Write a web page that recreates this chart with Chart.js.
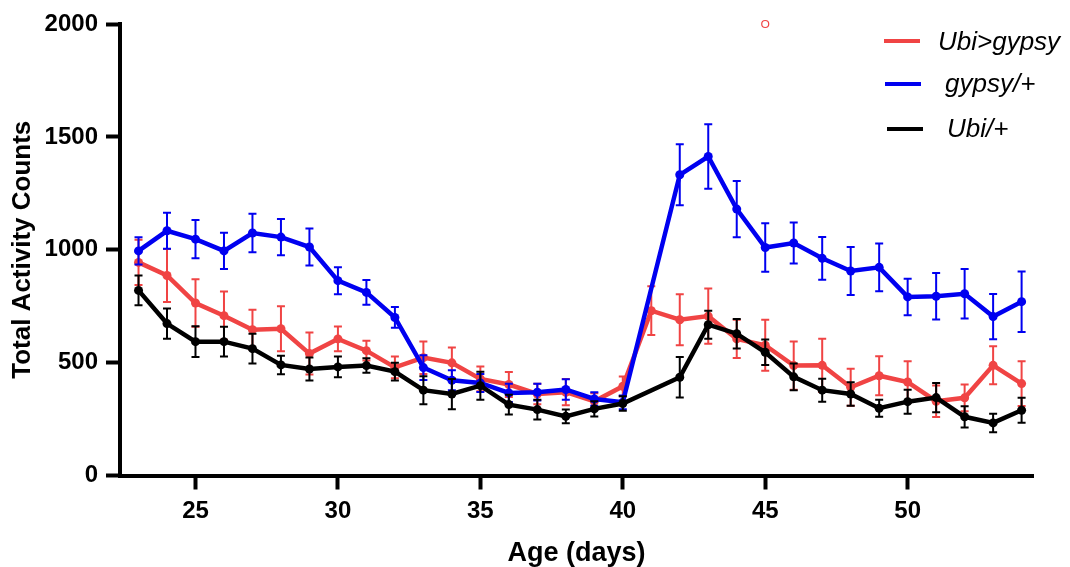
<!DOCTYPE html>
<html>
<head>
<meta charset="utf-8">
<title>Total Activity Counts</title>
<script src="https://cdn.jsdelivr.net/npm/chart.js@4.4.1/dist/chart.umd.min.js"></script>
<style>
    body { margin: 0; background: #fff; }
    .wrap { position: relative; width: 1070px; height: 567px; }
    .legend { position: absolute; left: 884px; top: 20px; font-family: "Liberation Sans", Arial, sans-serif; font-style: italic; font-size: 26px; color: #000; }
    .legend__item { position: absolute; white-space: nowrap; }
    .legend__line { position: absolute; width: 36px; height: 4px; }
</style>
</head>
<body>
<div class="wrap">
    <canvas id="myChart" width="1070" height="567"></canvas>
    <div class="legend">
        <div class="legend__line" style="left:0; top:19px; background:#f04444"></div>
        <div class="legend__item" style="left:54px; top:6px">Ubi&gt;gypsy</div>
        <div class="legend__line" style="left:1px; top:62px; background:#0000f0"></div>
        <div class="legend__item" style="left:61px; top:48px">gypsy/+</div>
        <div class="legend__line" style="left:3px; top:107px; background:#000"></div>
        <div class="legend__item" style="left:63px; top:93px">Ubi/+</div>
    </div>
</div>
<script>
const days = [23, 24, 25, 26, 27, 28, 29, 30, 31, 32, 33, 34, 35, 36, 37, 38,
    39, 40, 41, 42, 43, 44, 45, 46, 47, 48, 49, 50, 51, 52, 53, 54];

// Ubi>gypsy
const ubiGypsy = [944, 886, 764, 708, 646, 650, 540, 605, 553, 479, 522, 499, 428, 403, 361, 369,
    329, 395, 730, 690, 706, 605, 577, 487, 488, 391, 442, 414, 329, 344, 488, 407];
const ubiGypsyErr = [100, 117, 105, 107, 88, 100, 93, 55, 44, 48, 72, 68, 55, 55, 45, 58,
    35, 44, 108, 113, 122, 85, 113, 107, 118, 82, 86, 92, 70, 59, 84, 99];

// gypsy/+
const gypsy = [995, 1084, 1047, 995, 1074, 1056, 1012, 863, 811, 700, 478, 422, 410, 366, 369, 381,
    339, 324, null, 1332, 1413, 1180, 1010, 1030, 962, 906, 922, 791, 794, 805, 704, 770];
const gypsyErr = [60, 80, 85, 80, 85, 80, 82, 60, 55, 46, 55, 44, 40, 40, 37, 45,
    30, 30, null, 135, 143, 125, 107, 91, 95, 106, 106, 81, 103, 110, 100, 134];

// Ubi/+
const ubi = [820, 673, 593, 593, 562, 490, 472, 481, 487, 460, 378, 361, 398, 314, 292, 262,
    295, 319, null, 435, 668, 628, 546, 437, 378, 361, 298, 327, 345, 260, 233, 289];
const ubiErr = [66, 67, 68, 66, 66, 41, 51, 46, 32, 39, 62, 67, 62, 44, 44, 30,
    34, 32, null, 90, 62, 65, 56, 59, 51, 52, 38, 53, 65, 47, 41, 55];

// single outlier point of Ubi>gypsy
const outlierDay = [45];
const outlierValue = [2000];

const xTicks = [25, 30, 35, 40, 45, 50];
const yTicks = [0, 500, 1000, 1500, 2000];

function toPoints(values, errors) {
    let out = [];
    days.forEach(function(d, i) {
        if (values[i] !== null) {
            out.push({ x: d, y: values[i], err: errors ? errors[i] : 0 });
        }
    });
    return out;
}

// error bars, drawn right before each dataset so lines sit on top
const errorBars = {
    id: 'errorBars',
    beforeDatasetDraw: function(chart, args) {
        let ds = chart.data.datasets[args.index];
        if (!ds.errorColor) return;
        let ctx = chart.ctx;
        let xs = chart.scales.x, ys = chart.scales.y;
        ctx.save();
        ctx.strokeStyle = ds.errorColor;
        ctx.lineWidth = 2;
        ds.data.forEach(function(p) {
            if (!p.err) return;
            let px = xs.getPixelForValue(p.x);
            let top = ys.getPixelForValue(p.y + p.err);
            let bot = ys.getPixelForValue(p.y - p.err);
            ctx.beginPath();
            ctx.moveTo(px, top); ctx.lineTo(px, bot);
            ctx.moveTo(px - 4, top); ctx.lineTo(px + 4, top);
            ctx.moveTo(px - 4, bot); ctx.lineTo(px + 4, bot);
            ctx.stroke();
        });
        ctx.restore();
    }
};

function series(label, values, errors, color, order) {
    return {
        label: label,
        data: toPoints(values, errors),
        borderColor: color,
        backgroundColor: color,
        errorColor: color,
        borderWidth: 4.5,
        pointRadius: 4.5,
        pointHoverRadius: 4.5,
        pointBorderWidth: 0,
        tension: 0,
        order: order
    };
}

const font = '"Liberation Sans", Arial, sans-serif';

let ctx = document.getElementById('myChart').getContext('2d');
let chart = new Chart(ctx, {
    type: 'line',
    data: {
        datasets: [
            series('Ubi>gypsy', ubiGypsy, ubiGypsyErr, '#f04444', 2),
            series('gypsy/+', gypsy, gypsyErr, '#0000f0', 1),
            series('Ubi/+', ubi, ubiErr, '#000000', 0),
            {
                label: 'outlier',
                data: outlierDay.map(function(d, i) { return { x: d, y: outlierValue[i] }; }),
                showLine: false,
                pointRadius: 3.5,
                pointBorderWidth: 1.2,
                borderColor: '#f04444',
                backgroundColor: '#ffffff',
                clip: false,
                order: 3
            }
        ]
    },
    options: {
        responsive: false,
        animation: false,
        layout: { padding: { left: 0, top: 24, right: 37, bottom: 0 } },
        plugins: {
            legend: { display: false },
            tooltip: { enabled: false }
        },
        scales: {
            x: {
                type: 'linear',
                min: 22.35,
                max: 54.4,
                afterBuildTicks: function(scale) {
                    scale.ticks = xTicks.map(function(v) { return { value: v }; });
                },
                afterFit: function(scale) { scale.height = 91.5; },
                grid: { display: true, drawOnChartArea: false, tickLength: 14, tickWidth: 4, tickColor: '#000' },
                border: { display: true, width: 4, color: '#000' },
                ticks: { color: '#000', padding: 7, maxRotation: 0, font: { family: font, size: 24, weight: 'bold' } },
                title: { display: true, text: 'Age (days)', color: '#000', padding: 0, font: { family: font, size: 27, weight: 'bold', lineHeight: 1 } }
            },
            y: {
                min: 0,
                max: 2000,
                afterBuildTicks: function(scale) {
                    scale.ticks = yTicks.map(function(v) { return { value: v }; });
                },
                afterFit: function(scale) { scale.width = 120; },
                grid: { display: true, drawOnChartArea: false, tickLength: 14, tickWidth: 4, tickColor: '#000' },
                border: { display: true, width: 4, color: '#000' },
                ticks: {
                    color: '#000', padding: 8,
                    font: { family: font, size: 24, weight: 'bold' },
                    callback: function(v) { return String(v); }
                },
                title: { display: true, text: 'Total Activity Counts', color: '#000', padding: { top: 10, bottom: 0 }, font: { family: font, size: 26, weight: 'bold', lineHeight: 1 } }
            }
        }
    },
    plugins: [errorBars]
});
</script>
</body>
</html>
